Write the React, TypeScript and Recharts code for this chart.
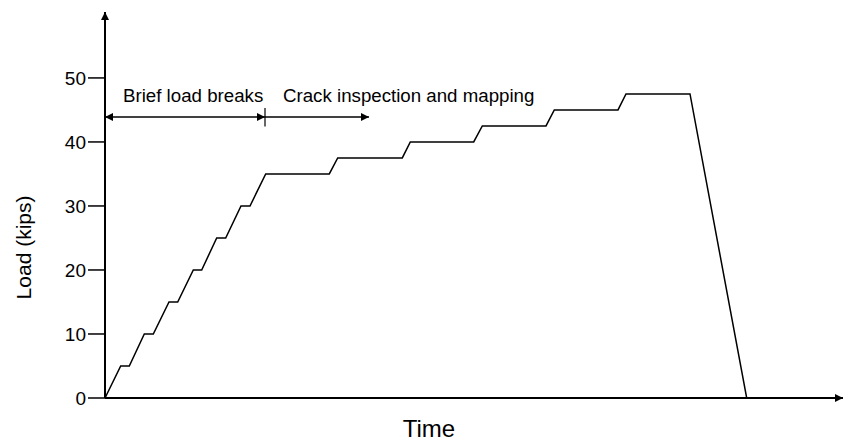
import * as React from "react"
import {
  LineChart,
  Line,
  XAxis,
  YAxis,
  ReferenceLine,
  ReferenceDot,
} from "recharts"

// load history: ramp in 5-kip steps with short holds, then long holds for crack mapping
const time = [
  0, 15.7, 24.3, 39.3, 48.3, 64, 72.7, 88.3, 96.7, 111.7, 120.7, 136, 145,
  160.7, 224.3, 232.7, 297.3, 305.3, 368.7, 377.3, 441, 449.3, 513, 521, 585,
  641.7,
]
const load = [
  0, 5, 5, 10, 10, 15, 15, 20, 20, 25, 25, 30, 30, 35, 35, 37.5, 37.5, 40, 40,
  42.5, 42.5, 45, 45, 47.5, 47.5, 0,
]
const loadTicks = [0, 10, 20, 30, 40, 50]

// phase annotation
const phaseSplit = 160
const phaseEnd = 264
const arrowLevel = 43.9
const phaseLabels = [
  { x: 18, text: "Brief load breaks" },
  { x: 178, text: "Crack inspection and mapping" },
]

const data = time.map((t, i) => ({ t, load: load[i] }))

const FONT = "'Liberation Sans', Arial, sans-serif"

export default function App() {
  return (
    <div style={{ position: "absolute", left: 0, top: 0, background: "#fff" }}>
      <LineChart
        width={844}
        height={441}
        data={data}
        margin={{ top: 12, right: 1, left: 0, bottom: 0 }}
      >
        <defs>
          <marker
            id="arrow-head"
            viewBox="0 0 10 10"
            refX="10"
            refY="5"
            markerWidth="10"
            markerHeight="8"
            markerUnits="userSpaceOnUse"
            orient="auto-start-reverse"
          >
            <path d="M0,0 L10,5 L0,10 z" fill="#000" />
          </marker>
        </defs>
        <XAxis
          dataKey="t"
          type="number"
          domain={[0, 738]}
          height={43}
          tick={false}
          tickLine={false}
          axisLine={{ stroke: "#000", strokeWidth: 2, markerEnd: "url(#arrow-head)" }}
          label={{
            content: ({ viewBox }: any) => (
              <text
                x={viewBox.x + 324}
                y={viewBox.y + 30}
                textAnchor="middle"
                dominantBaseline="central"
                fontFamily={FONT}
                fontSize={24}
                fill="#000"
              >
                Time
              </text>
            ),
          }}
        />
        <YAxis
          type="number"
          domain={[0, 60.3]}
          ticks={loadTicks}
          width={105}
          tickSize={17}
          tickMargin={2}
          tick={{ fill: "#000", fontSize: 19, fontFamily: FONT }}
          tickLine={{ stroke: "#000", strokeWidth: 1.5 }}
          axisLine={{ stroke: "#000", strokeWidth: 2, markerStart: "url(#arrow-head)" }}
          allowDataOverflow
          label={{
            content: ({ viewBox }: any) => {
              const cx = viewBox.x + 24
              const cy = viewBox.y + viewBox.height * 0.61
              return (
                <text
                  x={cx}
                  y={cy}
                  transform={`rotate(-90 ${cx} ${cy})`}
                  textAnchor="middle"
                  dominantBaseline="central"
                  fontFamily={FONT}
                  fontSize={21}
                  fill="#000"
                >
                  Load (kips)
                </text>
              )
            },
          }}
        />
        <ReferenceLine
          segment={[
            { x: 0, y: arrowLevel },
            { x: phaseSplit, y: arrowLevel },
          ]}
          stroke="#000"
          strokeWidth={1.5}
          markerStart="url(#arrow-head)"
          markerEnd="url(#arrow-head)"
        />
        <ReferenceLine
          segment={[
            { x: phaseSplit, y: arrowLevel },
            { x: phaseEnd, y: arrowLevel },
          ]}
          stroke="#000"
          strokeWidth={1.5}
          markerEnd="url(#arrow-head)"
        />
        <ReferenceLine
          segment={[
            { x: phaseSplit, y: arrowLevel - 1.5 },
            { x: phaseSplit, y: arrowLevel + 1.4 },
          ]}
          stroke="#000"
          strokeWidth={1.2}
        />
        {phaseLabels.map((p) => (
          <ReferenceDot
            key={p.text}
            x={p.x}
            y={47.3}
            r={0}
            fill="none"
            stroke="none"
            label={{
              value: p.text,
              position: "right",
              offset: 0,
              fill: "#000",
              fontSize: 18.7,
              fontFamily: FONT,
            }}
          />
        ))}
        <Line
          dataKey="load"
          type="linear"
          stroke="#000"
          strokeWidth={1.5}
          dot={false}
          isAnimationActive={false}
        />
      </LineChart>
    </div>
  )
}
